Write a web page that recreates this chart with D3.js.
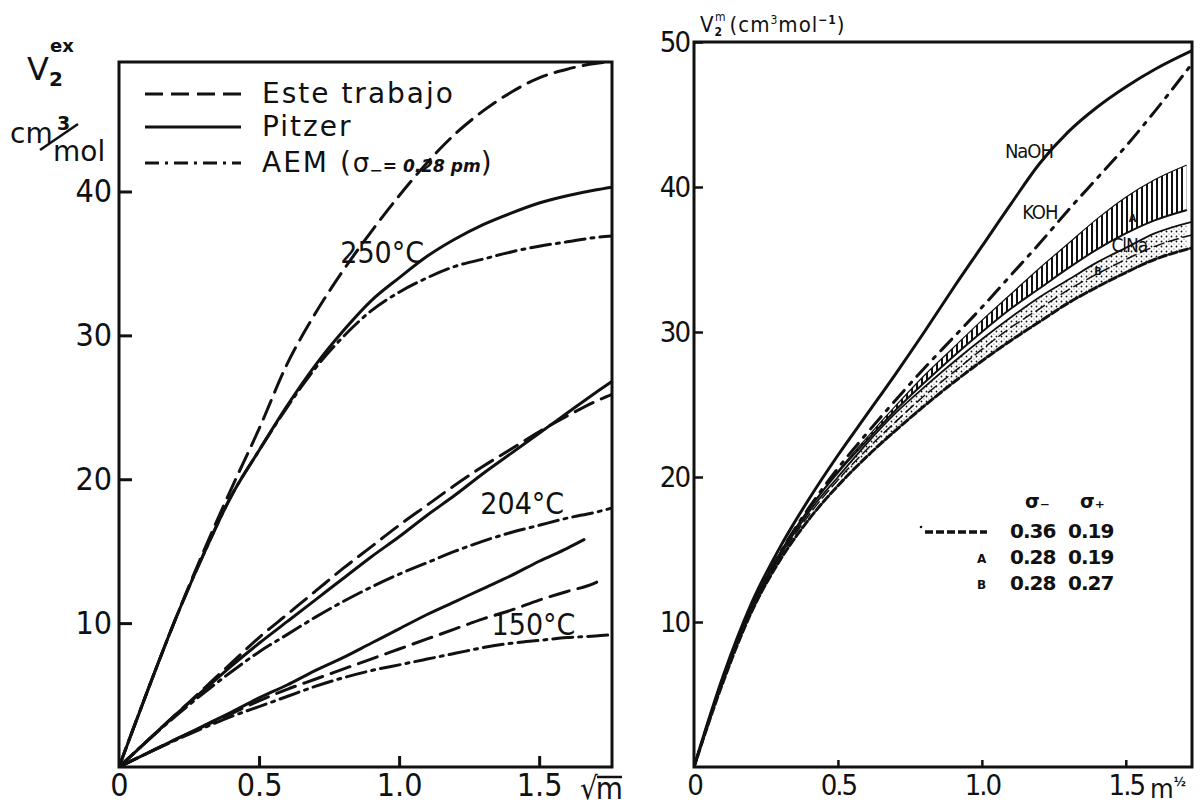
<!DOCTYPE html>
<html><head><meta charset="utf-8">
<script src="https://cdn.jsdelivr.net/npm/d3@7"></script>
<style>
body{margin:0;background:#fff;}
svg{display:block;background:#fff;}
text{font-family:"DejaVu Sans","Liberation Sans",sans-serif;fill:#111;}
</style></head><body>
<svg id="chart" width="1200" height="805"></svg>
<script>
// ---------- Left panel: excess volume V2ex vs sqrt(m) ----------
const xLeft = [0, 0.1, 0.2, 0.3, 0.4, 0.5, 0.6, 0.7, 0.8, 0.9, 1.0, 1.1, 1.2, 1.3, 1.4, 1.5, 1.6, 1.7, 1.76];
const este250   = [0, 5.2, 10.2, 14.9, 19.3, 23.5, 28.0, 31.5, 34.5, 37.2, 39.7, 42.0, 44.0, 45.6, 46.9, 47.9, 48.5, 48.9, 49.0];
const pitzer250 = [0, 5.2, 10.2, 14.7, 18.8, 22.0, 25.1, 27.9, 30.3, 32.4, 34.0, 35.5, 36.7, 37.7, 38.5, 39.2, 39.7, 40.1, 40.3];
const aem250    = [0, 5.2, 10.2, 14.7, 18.8, 22.0, 25.0, 27.7, 29.9, 31.7, 33.0, 34.0, 34.8, 35.3, 35.8, 36.2, 36.5, 36.8, 36.9];
const este204   = [0, 1.8, 3.6, 5.4, 7.2, 9.0, 10.6, 12.2, 13.8, 15.3, 16.8, 18.2, 19.6, 20.9, 22.1, 23.3, 24.4, 25.4, 25.9];
const pitzer204 = [0, 1.8, 3.6, 5.3, 7.0, 8.6, 10.1, 11.6, 13.1, 14.6, 16.0, 17.5, 18.9, 20.4, 21.8, 23.2, 24.6, 26.0, 26.8];
const aem204    = [0, 1.8, 3.5, 5.1, 6.6, 8.0, 9.2, 10.4, 11.5, 12.5, 13.4, 14.2, 15.0, 15.7, 16.3, 16.8, 17.3, 17.7, 18.0];
const xPitzer150 = [0, 0.1, 0.2, 0.3, 0.4, 0.5, 0.6, 0.7, 0.8, 0.9, 1.0, 1.1, 1.2, 1.3, 1.4, 1.5, 1.6, 1.66];
const pitzer150  = [0, 0.95, 1.9, 2.85, 3.8, 4.8, 5.7, 6.7, 7.6, 8.6, 9.6, 10.6, 11.5, 12.4, 13.3, 14.3, 15.2, 15.8];
const xEste150 = [0, 0.1, 0.2, 0.3, 0.4, 0.5, 0.6, 0.7, 0.8, 0.9, 1.0, 1.1, 1.2, 1.3, 1.4, 1.5, 1.6, 1.7, 1.72];
const este150  = [0, 0.95, 1.9, 2.8, 3.7, 4.6, 5.4, 6.1, 6.8, 7.5, 8.2, 8.9, 9.6, 10.3, 10.9, 11.6, 12.2, 12.8, 13.0];
const aem150   = [0, 0.95, 1.85, 2.7, 3.5, 4.2, 4.9, 5.6, 6.2, 6.7, 7.1, 7.5, 7.9, 8.3, 8.6, 8.8, 9.0, 9.1, 9.2];

const leftXTicks = [0, 0.5, 1.0, 1.5];
const leftYTicks = [10, 20, 30, 40];
const legendLabels = ["Este trabajo", "Pitzer", "AEM"];
const tempLabels = [
  {text: "250°C", x: 0.79, y: 35.0},
  {text: "204°C", x: 1.29, y: 17.6},
  {text: "150°C", x: 1.33, y: 9.2}
];

// ---------- Right panel: V2 vs m^1/2 for several electrolytes ----------
const xRight = [0, 0.1, 0.2, 0.3, 0.4, 0.5, 0.6, 0.7, 0.8, 0.9, 1.0, 1.1, 1.2, 1.3, 1.4, 1.5, 1.6, 1.73];
const naoh = [0, 6.2, 11.3, 15.2, 18.5, 21.5, 24.3, 27.1, 30.0, 33.0, 35.9, 38.8, 41.6, 43.8, 45.5, 46.9, 48.1, 49.4];
const koh  = [0, 6.0, 11.0, 14.8, 17.9, 20.6, 23.0, 25.3, 27.5, 29.6, 31.7, 33.9, 36.1, 38.4, 40.6, 42.8, 45.2, 48.5];
const xBand = [0, 0.1, 0.2, 0.3, 0.4, 0.5, 0.6, 0.7, 0.8, 0.9, 1.0, 1.1, 1.2, 1.3, 1.4, 1.5, 1.6, 1.71];
const kohA = [0, 6.0, 11.0, 14.8, 17.8, 20.4, 22.7, 24.9, 27.0, 28.9, 30.8, 32.6, 34.4, 36.1, 37.8, 39.3, 40.5, 41.5];
const kohB = [0, 6.0, 11.0, 14.8, 17.8, 20.3, 22.5, 24.6, 26.5, 28.3, 30.0, 31.6, 33.0, 34.4, 35.7, 36.8, 37.7, 38.4];
const clnaA   = [0, 5.9, 10.9, 14.6, 17.6, 20.0, 22.3, 24.4, 26.2, 27.9, 29.5, 31.0, 32.4, 33.6, 34.8, 35.8, 36.8, 37.6];
const clnaB   = [0, 5.9, 10.9, 14.5, 17.4, 19.8, 21.9, 23.8, 25.6, 27.2, 28.8, 30.3, 31.6, 32.9, 34.0, 35.0, 35.9, 36.7];
const clna036 = [0, 5.8, 10.7, 14.3, 17.1, 19.4, 21.4, 23.2, 24.9, 26.5, 28.0, 29.4, 30.7, 32.0, 33.1, 34.1, 35.0, 35.8];

const rightXTicks = [0, 0.5, 1.0, 1.5];
const rightYTicks = [10, 20, 30, 40, 50];
const saltLabels = [
  {text: "NaOH", x: 1.08, y: 42.0, size: 20},
  {text: "KOH", x: 1.14, y: 37.8, size: 20},
  {text: "ClNa", x: 1.45, y: 35.5, size: 19},
  {text: "A", x: 1.51, y: 37.6, size: 11},
  {text: "B", x: 1.39, y: 33.9, size: 11}
];
const sigmaHead = ["σ₋", "σ₊"];
const sigmaRows = [["", "0.36", "0.19"], ["A", "0.28", "0.19"], ["B", "0.28", "0.27"]];

// ---------- drawing ----------
const svg = d3.select("#chart");
const ink = "#111";
const condensed = "'DejaVu Sans Condensed','DejaVu Sans',sans-serif";

const xL = d3.scaleLinear().domain([0, 1.76]).range([119, 612]);
const yL = d3.scaleLinear().domain([0, 49]).range([767, 62]);
const xR = d3.scaleLinear().domain([0, 1.73]).range([694, 1192]);
const yR = d3.scaleLinear().domain([0, 50]).range([767, 42]);

const defs = svg.append("defs");
defs.append("clipPath").attr("id", "clipL").append("rect")
  .attr("x", xL(0)).attr("y", yL(49)).attr("width", xL(1.76) - xL(0)).attr("height", yL(0) - yL(49));
defs.append("clipPath").attr("id", "clipR").append("rect")
  .attr("x", xR(0)).attr("y", yR(50)).attr("width", xR(1.73) - xR(0)).attr("height", yR(0) - yR(50));

const hatch = defs.append("pattern").attr("id", "hatch").attr("patternUnits", "userSpaceOnUse")
  .attr("width", 5).attr("height", 8);
hatch.append("line").attr("x1", 2).attr("x2", 2).attr("y1", 0).attr("y2", 8)
  .attr("stroke", ink).attr("stroke-width", 2);
const stip = defs.append("pattern").attr("id", "stipple").attr("patternUnits", "userSpaceOnUse")
  .attr("width", 5).attr("height", 5);
stip.append("circle").attr("cx", 1.5).attr("cy", 1.5).attr("r", 0.9).attr("fill", ink);
stip.append("circle").attr("cx", 4).attr("cy", 4).attr("r", 0.6).attr("fill", "#555");

const DASH = "20 9";
const DASHDOT = "20 6 3 6";

function drawCurve(g, xs, ys, sx, sy, dash, width) {
  const pts = xs.map((x, i) => [x, ys[i]]);
  g.append("path")
    .datum(pts)
    .attr("fill", "none")
    .attr("stroke", ink)
    .attr("stroke-width", width || 3)
    .attr("stroke-linecap", "round")
    .attr("stroke-dasharray", dash || null)
    .attr("d", d3.line().x(d => sx(d[0])).y(d => sy(d[1])).curve(d3.curveMonotoneX));
}

// ===== Left panel =====
const gL = svg.append("g");
const curvesL = gL.append("g").attr("clip-path", "url(#clipL)");
drawCurve(curvesL, xLeft, este250, xL, yL, DASH);
drawCurve(curvesL, xLeft, pitzer250, xL, yL);
drawCurve(curvesL, xLeft, aem250, xL, yL, DASHDOT);
drawCurve(curvesL, xLeft, este204, xL, yL, DASH);
drawCurve(curvesL, xLeft, pitzer204, xL, yL);
drawCurve(curvesL, xLeft, aem204, xL, yL, DASHDOT);
drawCurve(curvesL, xEste150, este150, xL, yL, DASH);
drawCurve(curvesL, xPitzer150, pitzer150, xL, yL);
drawCurve(curvesL, xLeft, aem150, xL, yL, DASHDOT);

gL.append("rect").attr("x", xL(0)).attr("y", yL(49))
  .attr("width", xL(1.76) - xL(0)).attr("height", yL(0) - yL(49))
  .attr("fill", "none").attr("stroke", ink).attr("stroke-width", 3);

const axYL = gL.append("g").attr("transform", `translate(${xL(0)},0)`)
  .call(d3.axisLeft(yL).tickValues(leftYTicks).tickSize(-13).tickPadding(7).tickFormat(d3.format("d")));
const axXL = gL.append("g").attr("transform", `translate(0,${yL(0)})`)
  .call(d3.axisBottom(xL).tickValues(leftXTicks).tickSize(-11).tickPadding(6)
    .tickFormat(d => d === 0 ? "0" : d.toFixed(1)));
[axYL, axXL].forEach(a => {
  a.select(".domain").remove();
  a.selectAll(".tick line").attr("stroke", ink).attr("stroke-width", 3);
  a.selectAll(".tick text").attr("fill", ink)
    .style("font-family", condensed)
    .style("font-size", "32px");
});
axXL.selectAll(".tick").filter(d => d === 0).select("line").remove();

// temperature labels
gL.selectAll(".temp").data(tempLabels).join("text")
  .attr("x", d => xL(d.x)).attr("y", d => yL(d.y))
  .style("font-size", "30px")
  .style("font-family", condensed)
  .text(d => d.text);

// legend
const legY = [94, 127, 163];
const legDash = ["18 8", null, "14 6 3 6"];
legendLabels.forEach((lab, i) => {
  gL.append("line").attr("x1", 145).attr("x2", 241).attr("y1", legY[i]).attr("y2", legY[i])
    .attr("stroke", ink).attr("stroke-width", 3).attr("stroke-dasharray", legDash[i]);
});
const legText = gL.selectAll(".leg").data(legendLabels).join("text")
  .attr("x", 262).attr("y", (d, i) => legY[i] + 9)
  .style("font-size", "28px").style("letter-spacing", "2px");
legText.filter((d, i) => i < 2).text(d => d);
const aemT = legText.filter((d, i) => i === 2);
aemT.append("tspan").text("AEM (");
aemT.append("tspan").style("font-size", "26px").style("letter-spacing", "0px").text("σ");
aemT.append("tspan").style("font-size", "16px").attr("dy", 4).style("letter-spacing", "0px").text("−");
aemT.append("tspan").style("font-size", "17px").style("font-weight", "bold").style("font-style", "italic")
  .attr("dy", -4).style("letter-spacing", "0px").text("= 0.28 pm");
aemT.append("tspan").text(")");

// axis titles
const tV = gL.append("text").attr("x", 27).attr("y", 80).style("font-size", "32px");
tV.append("tspan").text("V");
tV.append("tspan").attr("dy", 6).style("font-size", "20px").style("font-weight", "bold").text("2");
gL.append("text").attr("x", 50).attr("y", 52).style("font-size", "18px").style("font-weight", "bold").text("ex");
gL.append("text").attr("x", 10).attr("y", 143).style("font-size", "28px").text("cm");
gL.append("text").attr("x", 57).attr("y", 130).style("font-size", "19px").style("font-weight", "bold").text("3");
gL.append("line").attr("x1", 40).attr("y1", 150).attr("x2", 78).attr("y2", 124)
  .attr("stroke", ink).attr("stroke-width", 2.5);
gL.append("text").attr("x", 53).attr("y", 161).style("font-size", "28px").text("mol");
gL.append("text").attr("x", 580).attr("y", 799).style("font-size", "31px")
  .style("font-family", condensed).style("letter-spacing", "-2px").text("√m");
gL.append("line").attr("x1", 597).attr("x2", 622).attr("y1", 777).attr("y2", 777)
  .attr("stroke", ink).attr("stroke-width", 2.5);

// ===== Right panel =====
const gR = svg.append("g");
const curvesR = gR.append("g").attr("clip-path", "url(#clipR)");
const bandFrom = 5;
const band = (lo, hi, fill) => {
  const pts = xBand.map((x, i) => ({x, lo: lo[i], hi: hi[i]})).slice(bandFrom);
  curvesR.append("path").datum(pts).attr("fill", fill).attr("stroke", "none")
    .attr("d", d3.area().x(d => xR(d.x)).y0(d => yR(d.lo)).y1(d => yR(d.hi)).curve(d3.curveMonotoneX));
};
band(kohB, kohA, "url(#hatch)");
band(clna036, clnaA, "url(#stipple)");

drawCurve(curvesR, xRight, naoh, xR, yR, null, 3);
drawCurve(curvesR, xRight, koh, xR, yR, "16 8 3 8", 3);
drawCurve(curvesR, xBand, kohA, xR, yR, null, 1.2);
drawCurve(curvesR, xBand, kohB, xR, yR, null, 2);
drawCurve(curvesR, xRight, clnaA, xR, yR, null, 1.8);
drawCurve(curvesR, xRight, clnaB, xR, yR, "10 5", 1.5);
drawCurve(curvesR, xRight, clna036, xR, yR, "8 3", 3);

gR.append("rect").attr("x", xR(0)).attr("y", yR(50))
  .attr("width", xR(1.73) - xR(0)).attr("height", yR(0) - yR(50))
  .attr("fill", "none").attr("stroke", ink).attr("stroke-width", 3);

const axYR = gR.append("g").attr("transform", `translate(${xR(0)},0)`)
  .call(d3.axisLeft(yR).tickValues(rightYTicks).tickSize(-9).tickPadding(5).tickFormat(d3.format("d")));
const axXR = gR.append("g").attr("transform", `translate(0,${yR(0)})`)
  .call(d3.axisBottom(xR).tickValues(rightXTicks).tickSize(-7).tickPadding(7)
    .tickFormat(d => d === 0 ? "0" : d.toFixed(1)));
[axYR, axXR].forEach(a => {
  a.select(".domain").remove();
  a.selectAll(".tick line").attr("stroke", ink).attr("stroke-width", 2.5);
  a.selectAll(".tick text").attr("fill", ink)
    .style("font-family", condensed)
    .style("font-size", "29px").style("letter-spacing", "-2px");
});
axXR.selectAll(".tick").filter(d => d === 0).select("line").remove();

gR.selectAll(".salt").data(saltLabels).join("text")
  .attr("x", d => xR(d.x)).attr("y", d => yR(d.y))
  .style("font-size", d => d.size + "px")
  .style("font-weight", d => d.size < 15 ? "bold" : "normal")
  .style("font-family", condensed)
  .style("letter-spacing", "-1px")
  .text(d => d.text);

// right axis titles
const tR = gR.append("text").attr("x", 700).attr("y", 32).style("font-size", "22px")
  .style("font-family", condensed).style("letter-spacing", "1px");
tR.append("tspan").text("V");
tR.append("tspan").attr("dy", 4).style("font-size", "12px").style("font-weight", "bold").text("2");
tR.append("tspan").attr("dy", -15).attr("dx", -8).style("font-size", "12px").text("m");
tR.append("tspan").attr("dy", 11).attr("dx", 3).text("(cm");
tR.append("tspan").attr("dy", -8).style("font-size", "12px").text("3");
tR.append("tspan").attr("dy", 8).text("mol");
tR.append("tspan").attr("dy", -8).style("font-size", "12px").style("font-weight", "bold").text("−1");
tR.append("tspan").attr("dy", 8).text(")");
const tM = gR.append("text").attr("x", 1150).attr("y", 798).style("font-size", "27px")
  .style("font-family", condensed);
tM.append("tspan").text("m");
tM.append("tspan").attr("dy", -12).style("font-size", "13px").style("font-weight", "bold").text("½");

// sigma table
const colX = [982, 1010, 1068];
gR.selectAll(".sh").data(sigmaHead).join("text")
  .attr("x", (d, i) => [1025, 1080][i]).attr("y", 508)
  .style("font-size", "19px").style("font-weight", "bold").text(d => d);
sigmaRows.forEach((row, r) => {
  const y = 538 + r * 26;
  row.forEach((cell, c) => {
    if (!cell) return;
    gR.append("text").attr("x", colX[c] - (c === 0 ? 5 : 0)).attr("y", y - (c === 0 ? 1 : 0))
      .style("font-size", c === 0 ? "12px" : "20px").style("font-weight", "bold")
      .style("letter-spacing", c === 0 ? "0px" : "-1px").text(cell);
  });
});
gR.append("line").attr("x1", 925).attr("x2", 987).attr("y1", 532).attr("y2", 532)
  .attr("stroke", ink).attr("stroke-width", 3.5).attr("stroke-dasharray", "8 3");
gR.append("circle").attr("cx", 921).attr("cy", 527).attr("r", 1.3).attr("fill", ink);
</script></body></html>
